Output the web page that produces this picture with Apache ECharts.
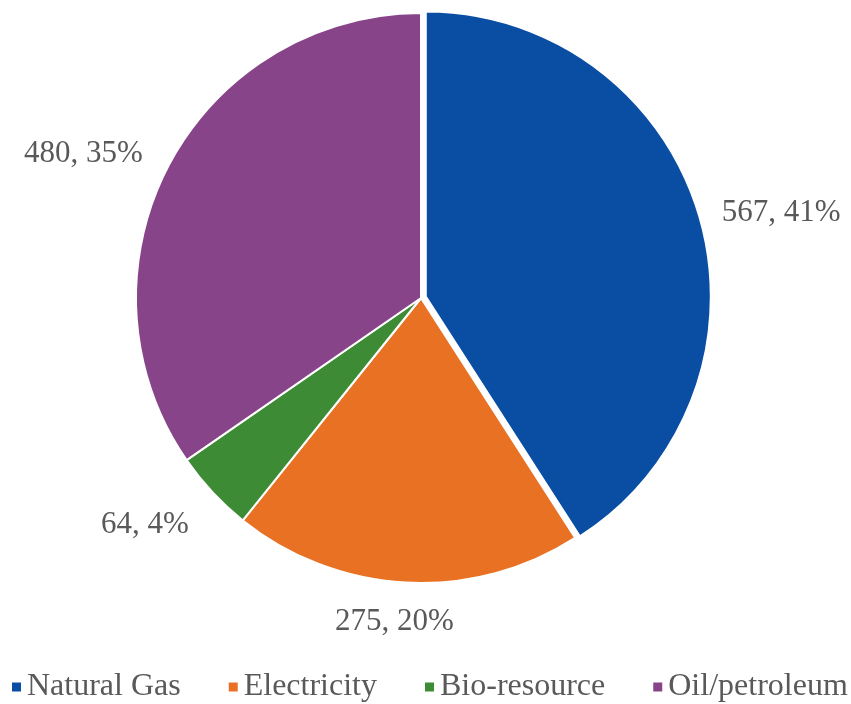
<!DOCTYPE html>
<html>
<head>
<meta charset="utf-8">
<script src="https://cdn.jsdelivr.net/npm/echarts@6/dist/echarts.min.js"></script>
<style>
  html, body { margin: 0; padding: 0; background: #fff; }
  #chart { width: 851px; height: 704px; }
</style>
</head>
<body>
<div id="chart"></div>
<script>
// Energy consumption by source
const categories = ['Natural Gas', 'Electricity', 'Bio-resource', 'Oil/petroleum'];
const values = [567, 275, 64, 480];
const colors = ['#0A4EA3', '#E87124', '#3E8B35', '#884489'];

// Small nudges for the outside labels, by slice index
const labelShift = [
  { dx: 0, dy: 0 },
  { dx: 0, dy: 27, align: 'center' },
  { dx: -4, dy: 24 },
  { dx: -4, dy: -6 }
];

const chart = echarts.init(document.getElementById('chart'));
const fontFamily = '"Liberation Serif", "Times New Roman", serif';

chart.setOption({
  animation: false,
  color: colors,
  legend: {
    top: 671,
    left: 10,
    width: 841,
    padding: 0,
    icon: 'rect',
    itemWidth: 11,
    itemHeight: 11,
    itemGap: 46,
    textStyle: {
      fontFamily: fontFamily,
      fontSize: 32,
      color: '#595959'
    },
    data: categories
  },
  series: [{
    type: 'pie',
    center: [421, 298],
    radius: 285,
    startAngle: 90,
    clockwise: true,
    percentPrecision: 0,
    selectedMode: 'single',
    selectedOffset: 5,
    itemStyle: { borderColor: '#fff', borderWidth: 2 },
    label: {
      show: true,
      position: 'outside',
      formatter: '{c}, {d}%',
      fontFamily: fontFamily,
      fontSize: 31,
      color: '#595959'
    },
    labelLine: { show: false, length: 12, length2: 6 },
    labelLayout: function (params) {
      return labelShift[params.dataIndex];
    },
    emphasis: { disabled: true },
    data: categories.map((name, i) => ({ name: name, value: values[i], selected: i === 0 }))
  }]
});
</script>
</body>
</html>
